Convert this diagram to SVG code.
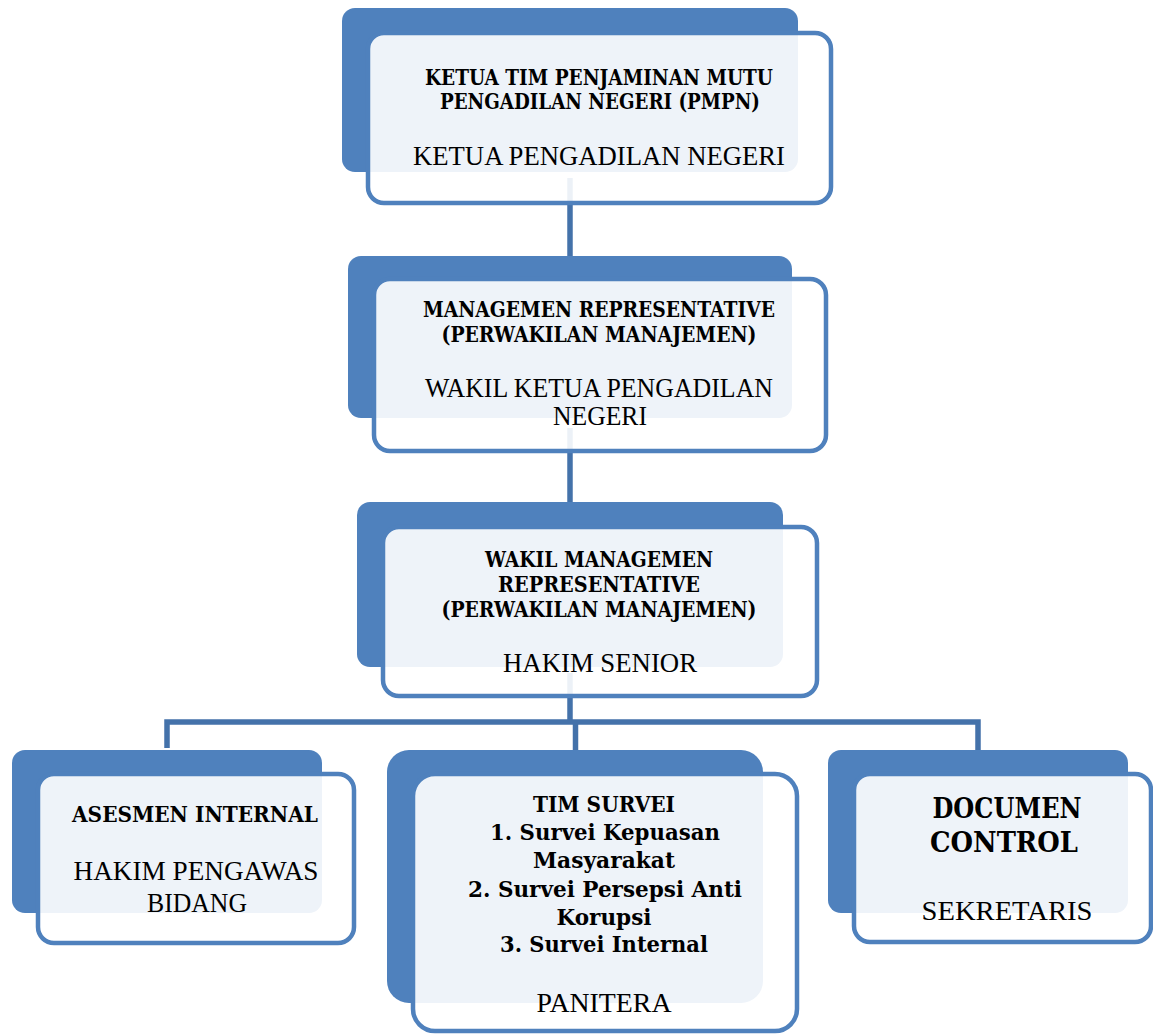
<svg xmlns="http://www.w3.org/2000/svg" width="1153" height="1034" viewBox="0 0 1153 1034">
<style>
.back{fill:#4f81bd}
.front{fill:#ffffff;fill-opacity:0.9;stroke:#4f81bd;stroke-width:4.5}
.conn{fill:none;stroke:#4472aa;stroke-width:5.5}
text{font-family:"Liberation Serif","Times New Roman",serif;fill:#000;text-anchor:middle}
.b{font-family:"DejaVu Serif","Liberation Serif",serif;font-weight:bold;font-size:22px}
.r{font-size:27px}
.bb{font-family:"DejaVu Serif","Liberation Serif",serif;font-weight:bold;font-size:27px}
</style>
<rect width="1153" height="1034" fill="#ffffff"/>
<g id="connectors">
<line class="conn" x1="570" y1="178" x2="570" y2="257"/>
<line class="conn" x1="570" y1="428" x2="570" y2="503"/>
<line class="conn" x1="570" y1="673" x2="570" y2="722"/>
<polyline class="conn" points="167,748 167,722 978,722 978,750"/>
<line class="conn" x1="575.5" y1="722" x2="575.5" y2="750"/>
</g>
<g id="node-ketua">
<rect class="back" x="342" y="8" width="456" height="164" rx="13"/>
<rect class="front" x="368" y="33" width="463" height="170" rx="16"/>
<text class="b" x="599" y="85" textLength="348" lengthAdjust="spacingAndGlyphs">KETUA TIM PENJAMINAN MUTU</text>
<text class="b" x="600" y="109" textLength="320" lengthAdjust="spacingAndGlyphs">PENGADILAN NEGERI (PMPN)</text>
<text class="r" x="599" y="165" textLength="372" lengthAdjust="spacingAndGlyphs">KETUA PENGADILAN NEGERI</text>
</g>
<g id="node-mr">
<rect class="back" x="348" y="256" width="444" height="162" rx="13"/>
<rect class="front" x="374" y="279" width="452" height="172" rx="16"/>
<text class="b" x="599" y="317" textLength="352" lengthAdjust="spacingAndGlyphs">MANAGEMEN REPRESENTATIVE</text>
<text class="b" x="599" y="342" textLength="315" lengthAdjust="spacingAndGlyphs">(PERWAKILAN MANAJEMEN)</text>
<text class="r" x="599" y="397" textLength="348" lengthAdjust="spacingAndGlyphs">WAKIL KETUA PENGADILAN</text>
<text class="r" x="600" y="425" textLength="94" lengthAdjust="spacingAndGlyphs">NEGERI</text>
</g>
<g id="node-wmr">
<rect class="back" x="357" y="502" width="426" height="165" rx="13"/>
<rect class="front" x="383" y="527" width="434" height="169" rx="16"/>
<text class="b" x="599" y="567" textLength="228" lengthAdjust="spacingAndGlyphs">WAKIL MANAGEMEN</text>
<text class="b" x="599" y="592" textLength="202" lengthAdjust="spacingAndGlyphs">REPRESENTATIVE</text>
<text class="b" x="599" y="617" textLength="315" lengthAdjust="spacingAndGlyphs">(PERWAKILAN MANAJEMEN)</text>
<text class="r" x="600" y="672" textLength="194" lengthAdjust="spacingAndGlyphs">HAKIM SENIOR</text>
</g>
<g id="node-asesmen">
<rect class="back" x="12" y="750" width="310" height="163" rx="13"/>
<rect class="front" x="38" y="774" width="316" height="169" rx="16"/>
<text class="b" x="195" y="822" textLength="246" lengthAdjust="spacingAndGlyphs">ASESMEN INTERNAL</text>
<text class="r" x="196" y="880" textLength="245" lengthAdjust="spacingAndGlyphs">HAKIM PENGAWAS</text>
<text class="r" x="197" y="912" textLength="100" lengthAdjust="spacingAndGlyphs">BIDANG</text>
</g>
<g id="node-survei">
<rect class="back" x="387" y="750" width="376" height="253" rx="22"/>
<rect class="front" x="413" y="774" width="384" height="257" rx="22"/>
<text class="b" x="604" y="812" textLength="142" lengthAdjust="spacingAndGlyphs">TIM SURVEI</text>
<text class="b" x="605" y="840" textLength="230" lengthAdjust="spacingAndGlyphs">1. Survei Kepuasan</text>
<text class="b" x="604" y="868" textLength="142" lengthAdjust="spacingAndGlyphs">Masyarakat</text>
<text class="b" x="605" y="897" textLength="274" lengthAdjust="spacingAndGlyphs">2. Survei Persepsi Anti</text>
<text class="b" x="604" y="925" textLength="95" lengthAdjust="spacingAndGlyphs">Korupsi</text>
<text class="b" x="604" y="952" textLength="208" lengthAdjust="spacingAndGlyphs">3. Survei Internal</text>
<text class="r" x="604" y="1012" textLength="135" lengthAdjust="spacingAndGlyphs">PANITERA</text>
</g>
<g id="node-documen">
<rect class="back" x="828" y="750" width="300" height="163" rx="13"/>
<rect class="front" x="854" y="774" width="297" height="168" rx="16"/>
<text class="bb" x="1007" y="818" textLength="149" lengthAdjust="spacingAndGlyphs">DOCUMEN</text>
<text class="bb" x="1004" y="852" textLength="148" lengthAdjust="spacingAndGlyphs">CONTROL</text>
<text class="r" x="1007" y="920" textLength="171" lengthAdjust="spacingAndGlyphs">SEKRETARIS</text>
</g>
</svg>
